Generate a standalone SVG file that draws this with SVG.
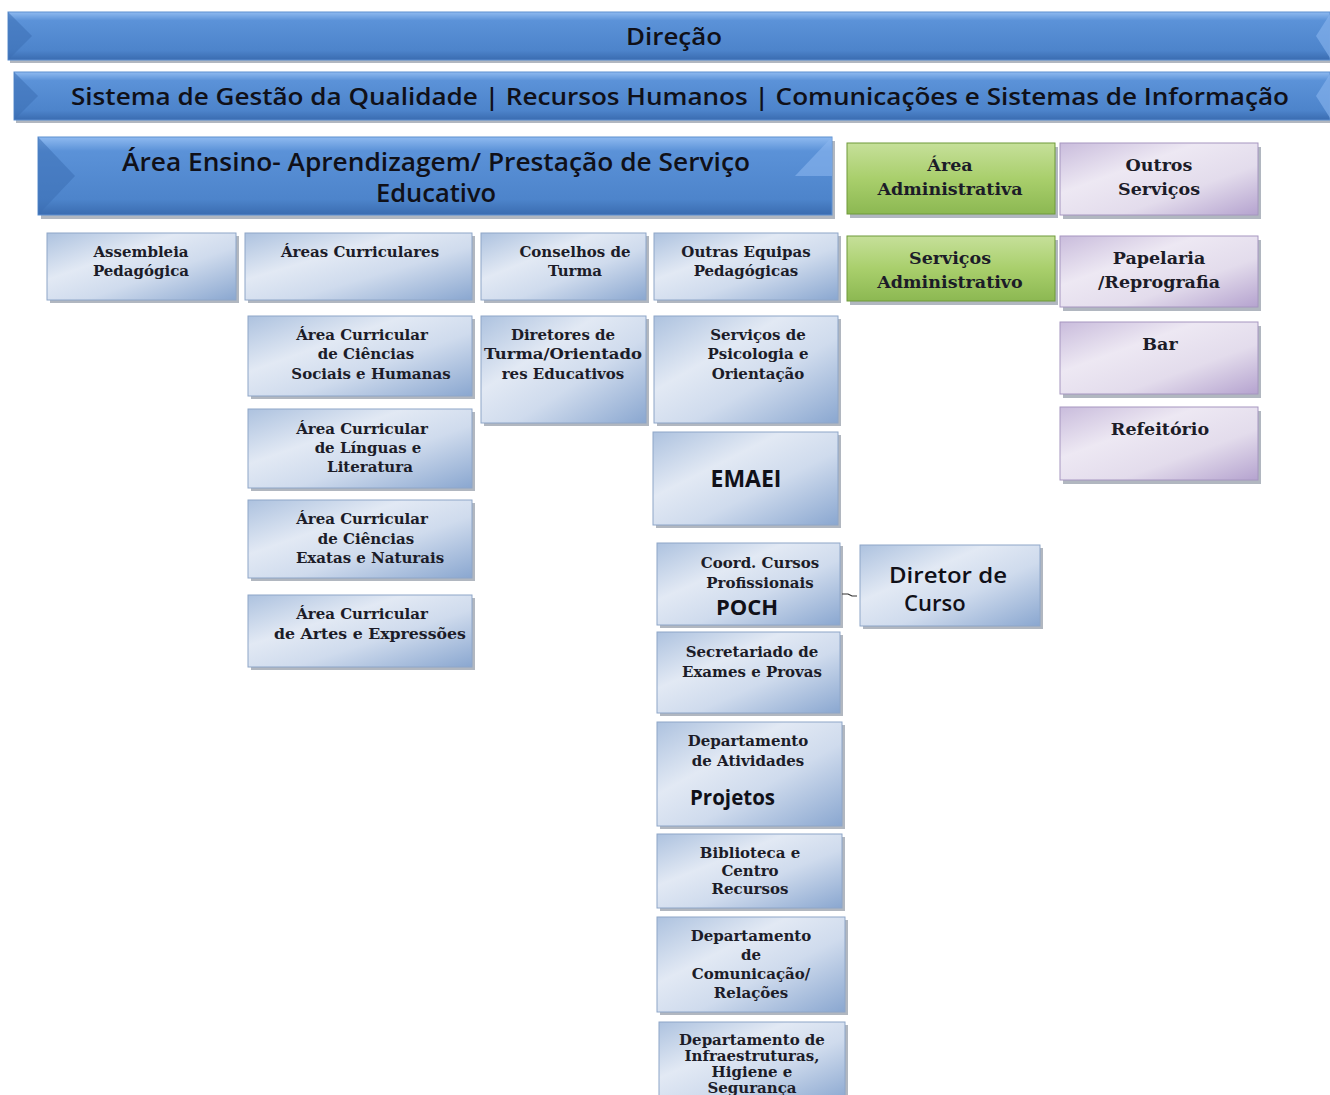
<svg xmlns="http://www.w3.org/2000/svg" width="1330" height="1095" viewBox="0 0 1330 1095">
<defs>
<linearGradient id="gBanner" x1="0" y1="0" x2="0" y2="1">
<stop offset="0" stop-color="#8fbaf0"/>
<stop offset="0.18" stop-color="#5b92d8"/>
<stop offset="0.8" stop-color="#4d84cb"/>
<stop offset="1" stop-color="#3a6cb0"/>
</linearGradient>
<linearGradient id="gBlue" x1="0" y1="0" x2="1" y2="1">
<stop offset="0" stop-color="#adc2df"/>
<stop offset="0.35" stop-color="#e2e9f4"/>
<stop offset="0.6" stop-color="#cfdbed"/>
<stop offset="1" stop-color="#8aa7d0"/>
</linearGradient>
<linearGradient id="gGreen" x1="0" y1="0" x2="0" y2="1">
<stop offset="0" stop-color="#c6e09a"/>
<stop offset="0.5" stop-color="#a9cf6c"/>
<stop offset="1" stop-color="#8cb852"/>
</linearGradient>
<linearGradient id="gPurple" x1="0" y1="0" x2="1" y2="1">
<stop offset="0" stop-color="#c9bcdc"/>
<stop offset="0.35" stop-color="#ede8f3"/>
<stop offset="0.65" stop-color="#e3dcec"/>
<stop offset="1" stop-color="#b5a3cf"/>
</linearGradient>
</defs>
<style>
.sh{fill:#7d8796;opacity:0.6}
.bx{fill:url(#gBlue);stroke:#8ea6c8;stroke-width:1}
.gr{fill:url(#gGreen);stroke:#6f9a3a;stroke-width:1}
.pu{fill:url(#gPurple);stroke:#a696c0;stroke-width:1}
.bn{fill:url(#gBanner);stroke:#5c8fd0;stroke-width:1}
.bev{fill:#3d70b5;opacity:0.55}
.bevl{fill:#8ab6ee;opacity:0.6}
.t{font-family:"DejaVu Serif","Liberation Serif",serif;font-weight:bold;font-size:15px;fill:#1c1c28;text-anchor:middle}
.tl{font-family:"DejaVu Serif","Liberation Serif",serif;font-weight:bold;font-size:17.5px;fill:#1c1c28;text-anchor:middle}
.ts{font-family:"Open Sans","Liberation Sans",sans-serif;font-weight:600;fill:#101018}
.sans{font-family:"Open Sans","Liberation Sans",sans-serif;font-weight:bold;fill:#101018}
</style>

<g id="direcao">
<rect x="10" y="15" width="1320" height="48" class="sh"/>
<rect x="8" y="12" width="1322" height="48" class="bn"/>
<polygon points="8,12 32,36 8,60" class="bev"/>
<polygon points="1330,14 1316,36 1330,58" class="bevl"/>
<text x="674" y="45" class="ts" font-size="24" text-anchor="middle" textLength="96" lengthAdjust="spacingAndGlyphs">Direção</text>
</g>

<g id="sistema">
<rect x="16" y="75" width="1314" height="48" class="sh"/>
<rect x="14" y="72" width="1316" height="48" class="bn"/>
<polygon points="14,72 38,96 14,120" class="bev"/>
<polygon points="1330,74 1316,96 1330,118" class="bevl"/>
<text x="680" y="105" class="ts" font-size="24" text-anchor="middle" textLength="1218" lengthAdjust="spacingAndGlyphs">Sistema de Gestão da Qualidade  |  Recursos Humanos  |  Comunicações e Sistemas de Informação</text>
</g>

<g id="area-ensino">
<rect x="41" y="141" width="794" height="78" class="sh"/>
<rect x="38" y="137" width="794" height="78" class="bn"/>
<polygon points="38,137 75,176 38,215" class="bev"/>
<polygon points="832,137 795,176 832,176" class="bevl"/>
<text x="436" y="171" class="ts" font-size="25.5" text-anchor="middle" textLength="628" lengthAdjust="spacingAndGlyphs">Área Ensino- Aprendizagem/ Prestação de Serviço</text>
<text x="436" y="202" class="ts" font-size="25.5" text-anchor="middle">Educativo</text>
</g>

<g id="area-administrativa">
<rect x="850" y="147" width="208" height="71" class="sh"/>
<rect x="847" y="143" width="208" height="71" class="gr"/>
<text x="950" y="171" class="tl">Área</text>
<text x="950" y="195" class="tl">Administrativa</text>
</g>

<g id="outros-servicos">
<rect x="1063" y="147" width="198" height="72" class="sh"/>
<rect x="1060" y="143" width="198" height="72" class="pu"/>
<text x="1159" y="171" class="tl">Outros</text>
<text x="1159" y="195" class="tl">Serviços</text>
</g>

<g id="servicos-administrativo">
<rect x="850" y="240" width="208" height="65" class="sh"/>
<rect x="847" y="236" width="208" height="65" class="gr"/>
<text x="950" y="264" class="tl">Serviços</text>
<text x="950" y="288" class="tl">Administrativo</text>
</g>

<g id="papelaria">
<rect x="1063" y="240" width="198" height="71" class="sh"/>
<rect x="1060" y="236" width="198" height="71" class="pu"/>
<text x="1159" y="264" class="tl">Papelaria</text>
<text x="1159" y="288" class="tl">/Reprografia</text>
</g>

<g id="bar">
<rect x="1063" y="326" width="198" height="72" class="sh"/>
<rect x="1060" y="322" width="198" height="72" class="pu"/>
<text x="1160" y="350" class="tl">Bar</text>
</g>

<g id="refeitorio">
<rect x="1063" y="411" width="198" height="73" class="sh"/>
<rect x="1060" y="407" width="198" height="73" class="pu"/>
<text x="1160" y="435" class="tl">Refeitório</text>
</g>

<g id="assembleia">
<rect x="50" y="236" width="189" height="67" class="sh"/>
<rect x="47" y="233" width="189" height="67" class="bx"/>
<text x="141" y="257" class="t">Assembleia</text>
<text x="141" y="276" class="t">Pedagógica</text>
</g>

<g id="areas-curriculares">
<rect x="248" y="236" width="227" height="67" class="sh"/>
<rect x="245" y="233" width="227" height="67" class="bx"/>
<text x="360" y="257" class="t">Áreas Curriculares</text>
</g>

<g id="conselhos-turma">
<rect x="484" y="236" width="165" height="67" class="sh"/>
<rect x="481" y="233" width="165" height="67" class="bx"/>
<text x="575" y="257" class="t">Conselhos de</text>
<text x="575" y="276" class="t">Turma</text>
</g>

<g id="outras-equipas">
<rect x="657" y="236" width="184" height="67" class="sh"/>
<rect x="654" y="233" width="184" height="67" class="bx"/>
<text x="746" y="257" class="t">Outras Equipas</text>
<text x="746" y="276" class="t">Pedagógicas</text>
</g>

<g id="ac-sociais">
<rect x="251" y="319" width="224" height="80" class="sh"/>
<rect x="248" y="316" width="224" height="80" class="bx"/>
<text x="362" y="340" class="t">Área Curricular</text>
<text x="366" y="359" class="t">de Ciências</text>
<text x="371" y="379" class="t">Sociais e Humanas</text>
</g>

<g id="diretores-turma">
<rect x="484" y="319" width="165" height="107" class="sh"/>
<rect x="481" y="316" width="165" height="107" class="bx"/>
<text x="563" y="340" class="t">Diretores de</text>
<text x="563" y="359" class="t" textLength="158" lengthAdjust="spacingAndGlyphs">Turma/Orientado</text>
<text x="563" y="379" class="t">res Educativos</text>
</g>

<g id="servicos-psicologia">
<rect x="657" y="319" width="184" height="107" class="sh"/>
<rect x="654" y="316" width="184" height="107" class="bx"/>
<text x="758" y="340" class="t">Serviços de</text>
<text x="758" y="359" class="t">Psicologia e</text>
<text x="758" y="379" class="t">Orientação</text>
</g>

<g id="ac-linguas">
<rect x="251" y="412" width="224" height="79" class="sh"/>
<rect x="248" y="409" width="224" height="79" class="bx"/>
<text x="362" y="434" class="t">Área Curricular</text>
<text x="368" y="453" class="t">de Línguas e</text>
<text x="370" y="472" class="t">Literatura</text>
</g>

<g id="emaei">
<rect x="656" y="435" width="185" height="93" class="sh"/>
<rect x="653" y="432" width="185" height="93" class="bx"/>
<text x="746" y="487" class="sans" font-size="23" text-anchor="middle">EMAEI</text>
</g>

<g id="ac-exatas">
<rect x="251" y="503" width="224" height="78" class="sh"/>
<rect x="248" y="500" width="224" height="78" class="bx"/>
<text x="362" y="524" class="t">Área Curricular</text>
<text x="366" y="544" class="t">de Ciências</text>
<text x="370" y="563" class="t">Exatas e Naturais</text>
</g>

<g id="ac-artes">
<rect x="251" y="598" width="224" height="72" class="sh"/>
<rect x="248" y="595" width="224" height="72" class="bx"/>
<text x="362" y="619" class="t">Área Curricular</text>
<text x="370" y="639" class="t" textLength="192" lengthAdjust="spacingAndGlyphs">de Artes e Expressões</text>
</g>

<g id="coord-cursos">
<rect x="660" y="546" width="183" height="82" class="sh"/>
<rect x="657" y="543" width="183" height="82" class="bx"/>
<text x="760" y="568" class="t">Coord. Cursos</text>
<text x="760" y="588" class="t">Profissionais</text>
<text x="747" y="615" class="sans" font-size="22" text-anchor="middle">POCH</text>
</g>

<g id="diretor-curso">
<rect x="863" y="548" width="180" height="81" class="sh"/>
<rect x="860" y="545" width="180" height="81" class="bx"/>
<text x="889" y="583" class="ts" font-size="22" textLength="118" lengthAdjust="spacingAndGlyphs">Diretor de</text>
<text x="904" y="611" class="ts" font-size="22">Curso</text>
</g>

<g id="secretariado">
<rect x="660" y="635" width="183" height="81" class="sh"/>
<rect x="657" y="632" width="183" height="81" class="bx"/>
<text x="752" y="657" class="t">Secretariado de</text>
<text x="752" y="677" class="t">Exames e Provas</text>
</g>

<g id="dep-atividades">
<rect x="660" y="725" width="185" height="104" class="sh"/>
<rect x="657" y="722" width="185" height="104" class="bx"/>
<text x="748" y="746" class="t">Departamento</text>
<text x="748" y="766" class="t">de Atividades</text>
<text x="690" y="805" class="sans" font-size="20.5">Projetos</text>
</g>

<g id="biblioteca">
<rect x="660" y="837" width="185" height="74" class="sh"/>
<rect x="657" y="834" width="185" height="74" class="bx"/>
<text x="750" y="858" class="t">Biblioteca e</text>
<text x="750" y="876" class="t">Centro</text>
<text x="750" y="894" class="t">Recursos</text>
</g>

<g id="dep-comunicacao">
<rect x="660" y="920" width="188" height="95" class="sh"/>
<rect x="657" y="917" width="188" height="95" class="bx"/>
<text x="751" y="941" class="t">Departamento</text>
<text x="751" y="960" class="t">de</text>
<text x="751" y="979" class="t">Comunicação/</text>
<text x="751" y="998" class="t">Relações</text>
</g>

<g id="dep-infraestruturas">
<rect x="662" y="1025" width="186" height="75" class="sh"/>
<rect x="659" y="1022" width="186" height="80" class="bx"/>
<text x="752" y="1045" class="t" font-size="13">Departamento de</text>
<text x="752" y="1061" class="t" font-size="13">Infraestruturas,</text>
<text x="752" y="1077" class="t" font-size="13">Higiene e</text>
<text x="752" y="1093" class="t" font-size="13">Segurança</text>
</g>

<g id="connectors">
<path d="M842,594 L848,594 L852,596 L857,596" fill="none" stroke="#333" stroke-width="1.2"/>
</g>
</svg>
